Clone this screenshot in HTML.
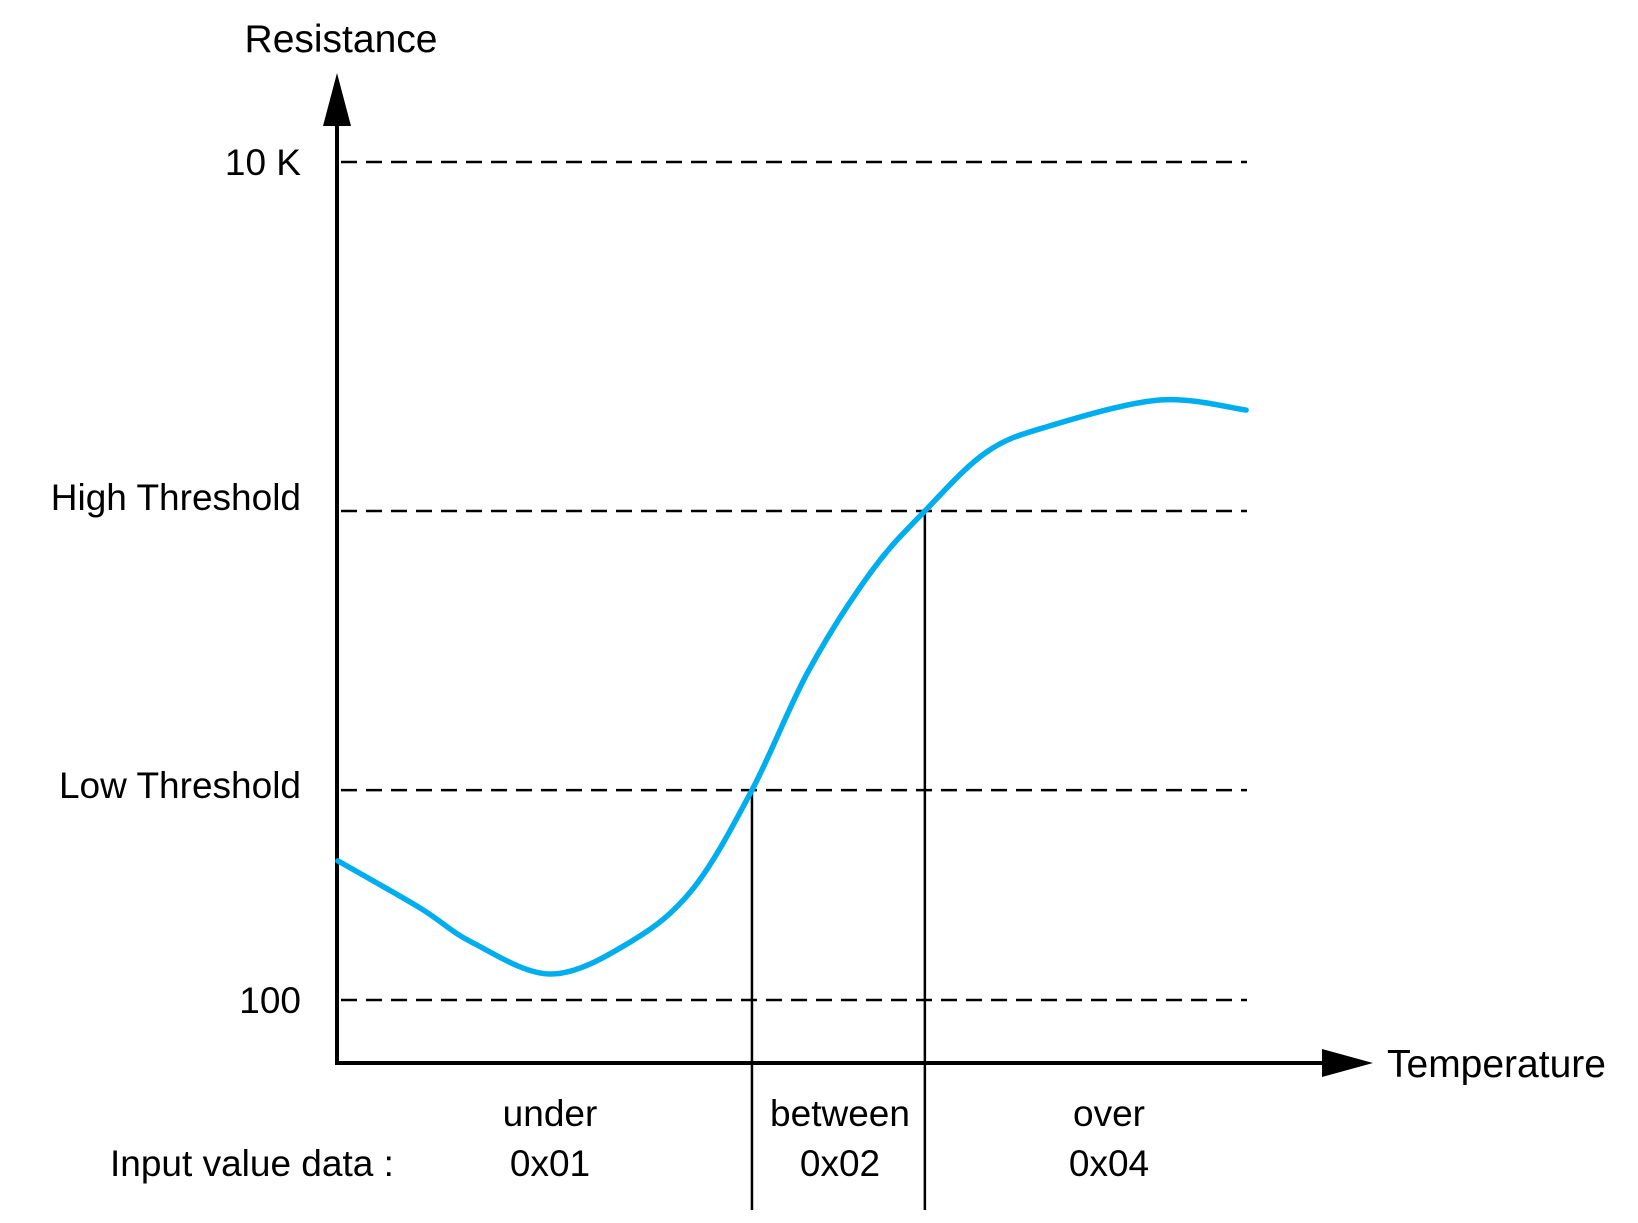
<!DOCTYPE html>
<html><head><meta charset="utf-8"><style>
html,body{margin:0;padding:0;background:#fff}
svg text{font-family:"Liberation Sans",Arial,sans-serif;fill:#000}
</style></head><body>
<svg width="1638" height="1218" viewBox="0 0 1638 1218" xmlns="http://www.w3.org/2000/svg" id="chart">
<defs></defs>
</svg>
<script>
const tempValues = [0.1, 9.1, 14.8, 23.5, 32.2, 39.1, 45.6, 51.8, 58.7, 64.6, 71.4, 78.3, 90.4, 99.9];
const resistanceValues = [2.332, 2.220, 2.138, 2.062, 2.138, 2.265, 2.501, 2.785, 3.022, 3.167, 3.308, 3.370, 3.432, 3.408];
const levelLabels = ["10 K", "High Threshold", "Low Threshold", "100"];
const levelValues = [4, 3.167, 2.501, 2];
const zoneLabels = ["under", "between", "over"];
const zoneCodes = ["0x01", "0x02", "0x04"];
const crossTemps = [45.6, 64.6];

const NS = "http://www.w3.org/2000/svg";
const svg = document.getElementById('chart');
const X0 = 337, X1 = 1247, YTOP = 162, YBOT = 1000;
const xs = v => X0 + (v / 100) * (X1 - X0);
const ys = v => YBOT - (v - 2) / 2 * (YBOT - YTOP);
function mk(tag, attrs, parent) {
  const e = document.createElementNS(NS, tag);
  for (const k in attrs) e.setAttribute(k, attrs[k]);
  (parent || svg).appendChild(e);
  return e;
}
// level dashed lines & labels
levelValues.forEach((v, i) => {
  const l = mk('line', {x1: X0 + 4, x2: X1, y1: ys(v), y2: ys(v), stroke: '#000', 'stroke-width': 2.5, 'stroke-dasharray': '16 9'});
  
  
  const t = mk('text', {x: 301, y: ys(v) + (i === 1 ? -14 : i === 2 ? -5 : 0) + 13, 'font-size': 37, 'text-anchor': 'end'});
  t.textContent = levelLabels[i];
  
  
});
// vertical crossing lines
crossTemps.forEach((c, i) => {
  const idx = tempValues.indexOf(c);
  const yv = idx >= 0 ? ys(resistanceValues[idx]) : ys(levelValues[i === 0 ? 2 : 1]);
  const l = mk('line', {x1: xs(c), x2: xs(c), y1: yv, y2: 1210, stroke: '#000', 'stroke-width': 2.5});
  
  
});
// axes
const ya = mk('line', {x1: X0, x2: X0, y1: 1064, y2: 120, stroke: '#000', 'stroke-width': 4});


const yar = mk('polygon', {points: `${X0},73 ${X0-14},126 ${X0+14},126`, fill: '#000'});


const xa = mk('line', {x1: X0 - 2, x2: 1330, y1: 1063, y2: 1063, stroke: '#000', 'stroke-width': 4});


const xar = mk('polygon', {points: `1373,1063 1322,1049 1322,1077`, fill: '#000'});


// axis titles
const yt = mk('text', {x: 341, y: 52, 'font-size': 39, 'text-anchor': 'middle'});
yt.textContent = 'Resistance';


const xt = mk('text', {x: 1387, y: 1077, 'font-size': 39});
xt.textContent = 'Temperature';


// zone labels
const bounds = [0, crossTemps[0], crossTemps[1], 100];
const zoneCenters = [550, 840, 1109];
zoneLabels.forEach((z, i) => {
  const t = mk('text', {x: zoneCenters[i], y: 1126, 'font-size': 37, 'text-anchor': 'middle'});
  t.textContent = z;
  
  
  const c = mk('text', {x: zoneCenters[i], y: 1176, 'font-size': 37, 'text-anchor': 'middle'});
  c.textContent = zoneCodes[i];
  
  
});
const iv = mk('text', {x: 110, y: 1176, 'font-size': 37});
iv.textContent = 'Input value data :';


// curve (catmull-rom)
const pts = tempValues.map((t, i) => [xs(t), ys(resistanceValues[i])]);
let d = `M${pts[0][0]},${pts[0][1]}`;
for (let i = 0; i < pts.length - 1; i++) {
  const p0 = pts[Math.max(0, i - 1)], p1 = pts[i], p2 = pts[i + 1], p3 = pts[Math.min(pts.length - 1, i + 2)];
  const c1 = [p1[0] + (p2[0] - p0[0]) / 6, p1[1] + (p2[1] - p0[1]) / 6];
  const c2 = [p2[0] - (p3[0] - p1[0]) / 6, p2[1] - (p3[1] - p1[1]) / 6];
  d += ` C${c1[0]},${c1[1]} ${c2[0]},${c2[1]} ${p2[0]},${p2[1]}`;
}
const curve = mk('path', {d: d, fill: 'none', stroke: '#00aeef', 'stroke-width': 5.5, 'stroke-linecap': 'round'});


</script>
</body></html>
